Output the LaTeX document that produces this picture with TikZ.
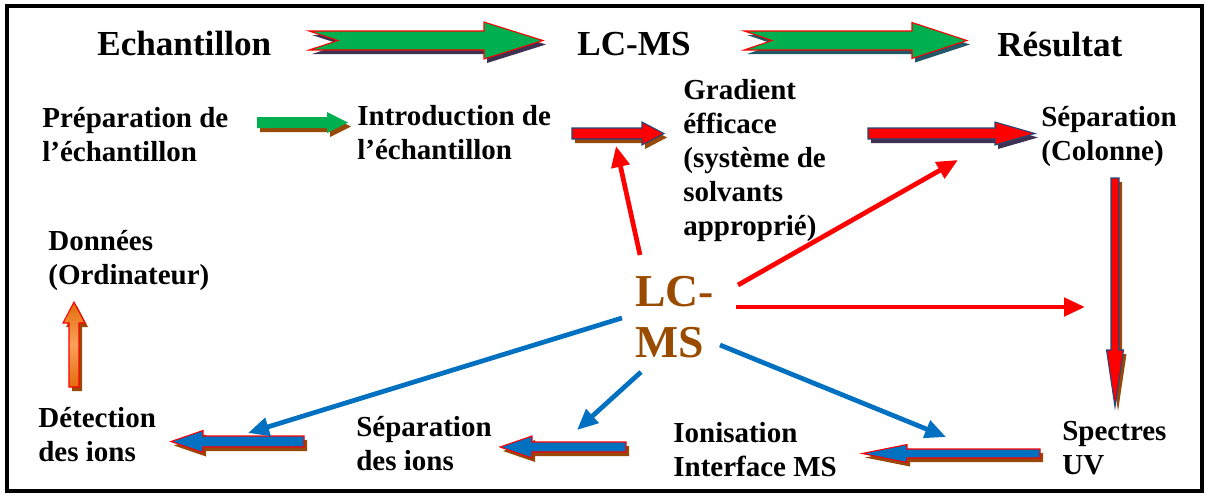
\documentclass[tikz,border=0pt]{standalone}
\usepackage{fontspec}
\setmainfont{Liberation Serif}
\usetikzlibrary{arrows.meta, positioning}

\definecolor{grn}{HTML}{00B050}
\definecolor{lcblue}{HTML}{0070C0}
\definecolor{shbrown}{HTML}{984807}
\definecolor{shpurp}{HTML}{3F3151}
\definecolor{shteal}{HTML}{215868}
\definecolor{olblue}{HTML}{1F497D}
\definecolor{lcbrown}{HTML}{994C00}
\definecolor{orD}{HTML}{E46C0A}
\definecolor{orL}{HTML}{F9A15A}

% block arrow: place, length, body half, head half, head length, fill, shadow, outline, notch
\newcommand{\blkarr}[9]{%
  \fill[#7, shift={(3,4)}, #1] (0,-#3) -- (#2-#5,-#3) -- (#2-#5,-#4) -- (#2,0)
    -- (#2-#5,#4) -- (#2-#5,#3) -- (0,#3) -- (#9,0) -- cycle;
  \path[#6, draw=#8, line width=0.6pt, #1] (0,-#3) -- (#2-#5,-#3) -- (#2-#5,-#4) -- (#2,0)
    -- (#2-#5,#4) -- (#2-#5,#3) -- (0,#3) -- (#9,0) -- cycle;
}

\begin{document}
\begin{tikzpicture}[
    x=0.02cm, y=-0.02cm,
    ttl/.style={font=\fontsize{20}{24}\selectfont\bfseries, inner sep=0pt, anchor=base west},
    lbl/.style={font=\fontsize{16.5}{19.3}\selectfont\bfseries, align=left, inner sep=0pt, anchor=base west},
    thin/.style={line width=0.095cm, -{Triangle[length=0.42cm, width=0.36cm]}}
]
\useasboundingbox (0,0) rectangle (1209,498);

% ---- frame ----
\draw[line width=0.09cm] (7,6) rectangle (1202,491);

% ---- top row ----
\node[ttl] (echant) at (97,55) {Echantillon};
\node[ttl] (lcmstop) at (577,55) {LC-MS};
\node[ttl] (result) at (997,56) {Résultat};

\blkarr{shift={(309,40.5)}}{234}{9.5}{18.5}{59}{fill=grn}{shpurp}{red}{29}
\blkarr{shift={(744,40.5)}}{223}{9.5}{18}{55}{fill=grn}{shteal}{red}{28}

% ---- steps (anchored on last baseline) ----
\node[lbl] (prep) at (42,161) {Préparation de\\l’échantillon};
\node[lbl] (intro) at (357,159) {Introduction de\\l’échantillon};
\node[lbl] (grad) at (683,235) {Gradient\\éfficace\\(système de\\solvants\\approprié)};
\node[lbl] (sepcol) at (1041,160) {Séparation\\(Colonne)};
\node[lbl] (donnees) at (48,284) {Données\\(Ordinateur)};
\node[lbl] (detect) at (38,461) {Détection\\des ions};
\node[lbl] (sepions) at (356,470) {Séparation\\des ions};
\node[lbl] (ionis) at (673,476) {Ionisation\\Interface MS};
\node[lbl] (spectres) at (1062,474) {Spectres\\UV};

\blkarr{shift={(257,122.5)}}{91}{5.5}{10.5}{21}{fill=grn}{shbrown}{none}{0}
\blkarr{shift={(572,133.5)}}{92}{5.5}{11.5}{22}{fill=red}{shbrown}{olblue}{0}
\blkarr{shift={(868,133.5)}}{167}{5.5}{11.5}{40}{fill=red}{shpurp}{olblue}{0}
\blkarr{shift={(1115,178)}, rotate=-90}{229}{4}{8.5}{57}{fill=red}{shbrown}{olblue}{0}
\blkarr{shift={(1040,453.5)}, rotate=180}{178}{4.5}{9}{45}{fill=lcblue}{shbrown}{red}{0}
\blkarr{shift={(626,447)}, rotate=180}{126}{5}{11}{32}{fill=lcblue}{shbrown}{red}{0}
\blkarr{shift={(304,441.5)}, rotate=180}{133}{5.5}{11}{32}{fill=lcblue}{shbrown}{red}{0}
\blkarr{shift={(74,387)}, rotate=90}{85}{5}{11}{21}{top color=orD, bottom color=orD, middle color=orL}{shbrown}{red}{0}

% ---- centre ----
\node[font=\fontsize{26}{29}\selectfont\bfseries, text=lcbrown, align=left,
      inner sep=0pt, anchor=base west] (lcms) at (635,357) {LC-\\MS};

\coordinate (r1s) at (640,255);  \coordinate (r1e) at (616,146);
\coordinate (r2s) at (738,285);  \coordinate (r2e) at (958,160);
\coordinate (r3s) at (736,307);  \coordinate (r3e) at (1085,307);
\coordinate (b1s) at (622,318);  \coordinate (b1e) at (248,433);
\coordinate (b2s) at (641,372);  \coordinate (b2e) at (577,430);
\coordinate (b3s) at (720,345);  \coordinate (b3e) at (946,437);

\draw[thin, red] (r1s) -- (r1e);
\draw[thin, red] (r2s) -- (r2e);
\draw[thin, red] (r3s) -- (r3e);
\draw[thin, lcblue] (b1s) -- (b1e);
\draw[thin, lcblue] (b2s) -- (b2e);
\draw[thin, lcblue] (b3s) -- (b3e);

\end{tikzpicture}
\end{document}
